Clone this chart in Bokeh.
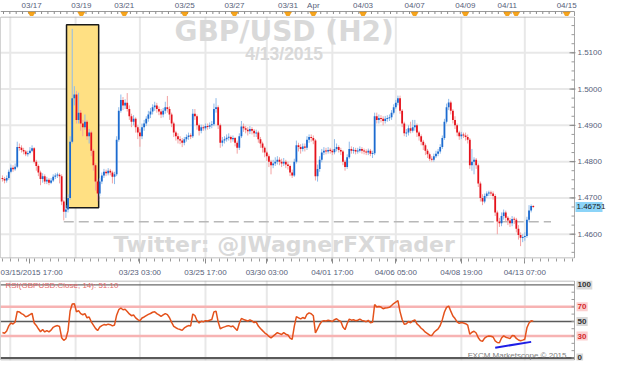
import numpy as np
from bokeh.plotting import figure
from bokeh.models import Range1d, FixedTicker
from bokeh.layouts import column
from bokeh.embed import file_html
from bokeh.resources import INLINE
from bokeh.core.properties import value

# ---------------- data (GBP/USD, 2-hour bars from 03/15 17:00) ----------------
first_open = 1.4755
close = [
1.4752,1.4748,1.4755,1.4772,1.4783,1.4779,1.4786,1.4840,1.4838,1.4832,
1.4828,1.4820,1.4824,1.4830,1.4837,1.4800,1.4788,1.4770,1.4752,1.4760,
1.4745,1.4750,1.4742,1.4748,1.4758,1.4762,1.4764,1.4760,1.4690,1.4662,
1.4668,1.4700,1.4855,1.4975,1.4985,1.4915,1.4935,1.4905,1.4895,1.4910,
1.4870,1.4880,1.4830,1.4790,1.4745,1.4712,1.4745,1.4762,1.4772,1.4768,
1.4775,1.4770,1.4758,1.4765,1.4860,1.4940,1.4970,1.4955,1.4962,1.4945,
1.4925,1.4910,1.4918,1.4895,1.4880,1.4870,1.4895,1.4905,1.4918,1.4930,
1.4938,1.4950,1.4955,1.4945,1.4938,1.4930,1.4940,1.4950,1.4945,1.4930,
1.4905,1.4880,1.4870,1.4862,1.4858,1.4852,1.4862,1.4868,1.4872,1.4870,
1.4932,1.4925,1.4900,1.4885,1.4895,1.4892,1.4898,1.4896,1.4900,1.4903,
1.4945,1.4950,1.4900,1.4852,1.4858,1.4862,1.4866,1.4868,1.4862,1.4865,
1.4852,1.4838,1.4870,1.4897,1.4892,1.4888,1.4884,1.4890,1.4885,1.4878,
1.4880,1.4862,1.4850,1.4838,1.4825,1.4815,1.4800,1.4790,1.4795,1.4800,
1.4805,1.4800,1.4795,1.4800,1.4792,1.4788,1.4770,1.4762,1.4800,1.4845,
1.4840,1.4835,1.4842,1.4838,1.4860,1.4868,1.4865,1.4858,1.4760,1.4780,
1.4805,1.4825,1.4830,1.4828,1.4832,1.4830,1.4826,1.4835,1.4840,1.4832,
1.4828,1.4800,1.4785,1.4812,1.4835,1.4830,1.4832,1.4828,1.4830,1.4835,
1.4830,1.4828,1.4825,1.4830,1.4822,1.4823,1.4925,1.4915,1.4920,1.4918,
1.4912,1.4918,1.4920,1.4922,1.4935,1.4950,1.4962,1.4975,1.4940,1.4905,
1.4878,1.4880,1.4892,1.4885,1.4895,1.4900,1.4880,1.4870,1.4855,1.4845,
1.4830,1.4820,1.4808,1.4805,1.4815,1.4822,1.4828,1.4840,1.4865,1.4910,
1.4950,1.4963,1.4940,1.4915,1.4900,1.4880,1.4870,1.4875,1.4872,1.4868,
1.4860,1.4790,1.4800,1.4805,1.4790,1.4740,1.4700,1.4690,1.4705,1.4712,
1.4715,1.4712,1.4705,1.4660,1.4635,1.4630,1.4650,1.4660,1.4645,1.4638,
1.4630,1.4642,1.4640,1.4615,1.4598,1.4590,1.4592,1.4595,1.4640,1.4665,
1.4678,1.46751]
high = [
1.4762,1.4758,1.4762,1.4778,1.4792,1.4790,1.4795,1.4855,1.4850,1.4845,
1.4838,1.4832,1.4830,1.4840,1.4845,1.4840,1.4805,1.4792,1.4775,1.4768,
1.4765,1.4758,1.4755,1.4755,1.4765,1.4768,1.4770,1.4768,1.4765,1.4695,
1.4680,1.4710,1.4870,1.5166,1.5008,1.4995,1.4990,1.4942,1.4915,1.4930,
1.4915,1.4890,1.4885,1.4835,1.4795,1.4752,1.4755,1.4770,1.4780,1.4778,
1.4782,1.4780,1.4775,1.4772,1.4870,1.4950,1.4985,1.4978,1.4972,1.4989,
1.4955,1.4932,1.4928,1.4922,1.4900,1.4890,1.4905,1.4915,1.4925,1.4940,
1.4948,1.4958,1.4965,1.4962,1.4952,1.4945,1.4948,1.4965,1.4981,1.4952,
1.4935,1.4910,1.4885,1.4878,1.4870,1.4865,1.4868,1.4875,1.4880,1.4878,
1.4945,1.4945,1.4930,1.4905,1.4902,1.4900,1.4905,1.4905,1.4908,1.4912,
1.4960,1.4975,1.4955,1.4905,1.4868,1.4870,1.4875,1.4878,1.4872,1.4872,
1.4868,1.4858,1.4878,1.4912,1.4905,1.4898,1.4895,1.4898,1.4895,1.4890,
1.4888,1.4885,1.4868,1.4855,1.4842,1.4830,1.4820,1.4805,1.4805,1.4812,
1.4815,1.4812,1.4808,1.4810,1.4805,1.4800,1.4792,1.4778,1.4808,1.4858,
1.4852,1.4848,1.4850,1.4850,1.4870,1.4875,1.4875,1.4872,1.4862,1.4792,
1.4815,1.4835,1.4840,1.4838,1.4840,1.4838,1.4835,1.4862,1.4850,1.4845,
1.4838,1.4832,1.4805,1.4820,1.4855,1.4842,1.4840,1.4838,1.4838,1.4842,
1.4840,1.4836,1.4834,1.4836,1.4835,1.4830,1.4935,1.4935,1.4930,1.4928,
1.4925,1.4926,1.4928,1.4930,1.4942,1.4958,1.4970,1.4982,1.4982,1.4945,
1.4910,1.4890,1.4900,1.4910,1.4915,1.4915,1.4905,1.4885,1.4875,1.4860,
1.4850,1.4835,1.4825,1.4815,1.4822,1.4830,1.4835,1.4848,1.4872,1.4918,
1.4960,1.4973,1.4968,1.4945,1.4925,1.4905,1.4885,1.4882,1.4880,1.4880,
1.4875,1.4865,1.4835,1.4812,1.4810,1.4795,1.4745,1.4710,1.4712,1.4718,
1.4720,1.4720,1.4718,1.4710,1.4665,1.4645,1.4660,1.4668,1.4665,1.4650,
1.4645,1.4650,1.4648,1.4645,1.4625,1.4605,1.4600,1.4605,1.4648,1.4680,
1.4682,1.4680]
low = [
1.4745,1.4740,1.4742,1.4750,1.4768,1.4772,1.4775,1.4782,1.4830,1.4825,
1.4820,1.4815,1.4814,1.4820,1.4826,1.4795,1.4775,1.4760,1.4735,1.4742,
1.4738,1.4738,1.4735,1.4738,1.4744,1.4752,1.4755,1.4740,1.4680,1.4638,
1.4645,1.4660,1.4695,1.4850,1.4955,1.4905,1.4905,1.4885,1.4870,1.4888,
1.4860,1.4850,1.4815,1.4775,1.4720,1.4691,1.4705,1.4738,1.4755,1.4760,
1.4762,1.4762,1.4740,1.4738,1.4760,1.4855,1.4935,1.4942,1.4945,1.4938,
1.4915,1.4895,1.4900,1.4880,1.4862,1.4841,1.4862,1.4885,1.4898,1.4910,
1.4920,1.4930,1.4940,1.4935,1.4928,1.4920,1.4922,1.4932,1.4935,1.4915,
1.4895,1.4868,1.4858,1.4850,1.4848,1.4840,1.4845,1.4855,1.4860,1.4862,
1.4865,1.4915,1.4888,1.4872,1.4878,1.4885,1.4886,1.4888,1.4890,1.4892,
1.4898,1.4935,1.4890,1.4838,1.4842,1.4850,1.4855,1.4858,1.4852,1.4855,
1.4842,1.4822,1.4832,1.4865,1.4882,1.4878,1.4872,1.4876,1.4875,1.4868,
1.4868,1.4852,1.4838,1.4825,1.4812,1.4802,1.4785,1.4765,1.4782,1.4788,
1.4792,1.4790,1.4785,1.4788,1.4782,1.4778,1.4760,1.4755,1.4758,1.4795,
1.4828,1.4822,1.4828,1.4828,1.4832,1.4852,1.4855,1.4848,1.4748,1.4745,
1.4772,1.4798,1.4818,1.4820,1.4822,1.4822,1.4818,1.4820,1.4828,1.4825,
1.4818,1.4790,1.4775,1.4780,1.4808,1.4822,1.4822,1.4820,1.4822,1.4825,
1.4822,1.4820,1.4818,1.4818,1.4815,1.4810,1.4818,1.4905,1.4905,1.4908,
1.4900,1.4905,1.4910,1.4912,1.4915,1.4930,1.4945,1.4955,1.4932,1.4895,
1.4870,1.4868,1.4872,1.4878,1.4880,1.4885,1.4868,1.4858,1.4845,1.4832,
1.4818,1.4810,1.4802,1.4800,1.4800,1.4810,1.4815,1.4822,1.4835,1.4860,
1.4905,1.4942,1.4930,1.4905,1.4890,1.4870,1.4860,1.4862,1.4865,1.4858,
1.4850,1.4780,1.4775,1.4765,1.4780,1.4730,1.4690,1.4680,1.4685,1.4700,
1.4705,1.4705,1.4695,1.4650,1.4600,1.4620,1.4622,1.4640,1.4635,1.4625,
1.4620,1.4622,1.4628,1.4605,1.4585,1.4567,1.4578,1.4582,1.4590,1.4635,
1.4660,1.4672]

top_date_labels = ["03/17", "03/19", "03/21", "03/25", "03/27", "03/31", "Apr",
                   "04/03", "04/07", "04/09", "04/11", "04/15"]
top_date_pos = [13.8, 37.3, 57.6, 86.2, 109.7, 135.0, 147.0, 170.5, 194.9, 218.9, 238.7, 266.8]
event_pos = [13.8, 37.3, 57.6, 86.2, 109.7, 135.0, 147.0, 170.5, 194.9, 218.9, 238.7, 242.9, 266.8]

bottom_tick_pos = [13, 65, 96, 125, 156, 186, 217, 247]
bottom_tick_labels = ["03/15/2015 17:00", "03/23 03:00", "03/25 17:00", "03/30 03:00",
                      "04/01 17:00", "04/06 05:00", "04/08 19:00", "04/13 07:00"]
grid_pos = [3.7, 34.6, 65, 96, 125, 156, 186, 217, 247]

price_ticks = [1.46, 1.47, 1.48, 1.49, 1.50, 1.51]
price_tick_labels = ["1.4600", "1.4700", "1.4800", "1.4900", "1.5000", "1.5100"]
last_price = 1.46751
support_level = 1.4634
support_from, support_to = 29, 259.4
box_left, box_right, box_bottom, box_top = 30.3, 45.5, 1.4673, 1.5177

rsi_period = 14
rsi_seed_gain, rsi_seed_loss = 0.0004, 0.00075
rsi_levels = [0, 30, 50, 70, 100]
rsi_trend_x = [233, 250]
rsi_trend_y = [14, 22]
rsi_title = "RSI(GBPUSD.Close, 14): 51.10"

# ---------------- derived ----------------
n = len(close)
idx = np.arange(n)
c = np.array(close)
o = np.concatenate([[first_open], c[:-1]])
h = np.maximum(np.array(high), np.maximum(o, c))
l = np.minimum(np.array(low), np.minimum(o, c))
up = c >= o
btop = np.maximum(o, c)
bbot = np.minimum(o, c)
mid = (btop + bbot) / 2
thin = (btop - bbot) < 0.00028
btop = np.where(thin, mid + 0.00014, btop)
bbot = np.where(thin, mid - 0.00014, bbot)

ag, al = rsi_seed_gain, rsi_seed_loss
rsi = [100 - 100 / (1 + ag / al)]
for d in np.diff(c):
    ag = (ag * (rsi_period - 1) + max(d, 0)) / rsi_period
    al = (al * (rsi_period - 1) + max(-d, 0)) / rsi_period
    rsi.append(100 - 100 / (1 + ag / al))

# ---------------- layout constants ----------------
W = 607
FRAME_W = 574
X0, X1 = -0.92, 270.5
BAR_PX = FRAME_W / (X1 - X0)
XE = X0 + W / BAR_PX
PY0, PY1 = 1.4533, 1.5200
MAIN_FH = 242
RY0, RY1 = -3.5, 106
RSI_FH = 80
FONT = "Liberation Sans"
AXC = "#56607a"
BLUE, RED = "#1c6bd0", "#e5121b"
LBLUE, PINK = "#8fbbea", "#f3a3a3"
FRAME_C = "#a8a8a8"
GRID_C = "#e8e8e8"

def dx(px):
    return px / BAR_PX

def dyp(px):
    return px * (PY1 - PY0) / MAIN_FH

def dyr(px):
    return px * (RY1 - RY0) / RSI_FH

xr = Range1d(X0, XE)

def base_fig(height, yr, bottom, x_axis=None):
    f = figure(width=W, height=height, x_range=xr, y_range=yr,
               min_border_left=0, min_border_right=0, min_border_top=0, min_border_bottom=bottom,
               toolbar_location=None, output_backend="svg",
               x_axis_location=x_axis, y_axis_location=None)
    f.grid.visible = False
    f.outline_line_color = None
    return f

# ---- top date strip ----
strip = base_fig(16, Range1d(0, 16), 0)
strip.text(x=top_date_pos, y=[11.3] * len(top_date_pos), text=top_date_labels,
           text_align="center", text_baseline="middle", text_font=value(FONT),
           text_font_size=value("8px"), text_color=AXC)
strip.segment(x0=[X0], y0=[5], x1=[X1], y1=[5], line_color="#9a9a9a", line_width=1)
mt = np.arange(0.5, X1, 3.0)
strip.segment(x0=mt, y0=[5] * len(mt), x1=mt, y1=[2.5] * len(mt), line_color="#8a8a8a", line_width=1)
strip.segment(x0=[X1], y0=[0], x1=[X1], y1=[5], line_color="#9a9a9a", line_width=1)
strip.scatter(x=event_pos, y=[2.4] * len(event_pos), marker="inverted_triangle", size=7,
              fill_color="#f7a51c", line_color="#e08a00", line_width=0.5)

# ---- main price panel ----
p = base_fig(MAIN_FH + 22, Range1d(PY0, PY1), 22, x_axis="below")
# grid
p.segment(x0=grid_pos, y0=[PY0] * len(grid_pos), x1=grid_pos, y1=[PY1] * len(grid_pos),
          line_color=GRID_C, line_width=2)
p.segment(x0=[X0] * len(price_ticks), y0=price_ticks, x1=[X1] * len(price_ticks), y1=price_ticks,
          line_color=GRID_C, line_width=2)
# bottom axis
p.xaxis.ticker = FixedTicker(ticks=bottom_tick_pos, minor_ticks=list(np.arange(-0.1, X1, 3.8)))
p.xaxis.major_label_overrides = {k: v for k, v in zip(bottom_tick_pos, bottom_tick_labels)}
p.xaxis.axis_line_color = None
p.xaxis.major_tick_line_color = "#8a8a8a"
p.xaxis.minor_tick_line_color = "#9a9a9a"
p.xaxis.major_label_text_font = FONT
p.xaxis.major_label_text_font_size = "8px"
p.xaxis.major_label_text_color = AXC
p.xaxis.major_tick_in = 0
p.xaxis.major_tick_out = 5
p.xaxis.minor_tick_in = 0
p.xaxis.minor_tick_out = 3
p.xaxis.major_label_standoff = 4

# watermarks
p.text(x=[133.2], y=[1.51594], text=["GBP/USD (H2)"], text_align="center", text_baseline="middle",
       text_font=value("DejaVu Sans"), text_font_style="bold", text_font_size=value("28px"),
       text_color="#d9d9d9")
p.text(x=[133.2], y=[1.50960], text=["4/13/2015"], text_align="center", text_baseline="middle",
       text_font=value(FONT), text_font_style="bold", text_font_size=value("17.5px"),
       text_color="#d9d9d9")
p.text(x=[133.2], y=[1.45723], text=["Twitter: @JWagnerFXTrader"], text_align="center",
       text_baseline="middle", text_font=value("DejaVu Sans"), text_font_style="bold",
       text_font_size=value("22px"), text_color="#d9d9d9")

# highlight box
p.quad(left=[box_left], right=[box_right], bottom=[box_bottom], top=[box_top],
       fill_color="#FFE083", line_color="#1a1a1a", line_width=1.5)

# support line
p.segment(x0=[support_from], y0=[support_level], x1=[support_to], y1=[support_level],
          line_color="#b8b8b8", line_width=1.5, line_dash="10 5")

# candles
wick_col = [LBLUE if u else PINK for u in up]
body_col = [BLUE if u else RED for u in up]
p.segment(x0=idx, y0=l, x1=idx, y1=h, line_color=wick_col, line_width=1)
p.vbar(x=idx, width=0.85, top=btop, bottom=bbot, fill_color=body_col, line_color=None)

# frame
p.quad(left=[X0], right=[X1], bottom=[PY0 + dyp(0.5)], top=[PY1 - dyp(0.5)],
       fill_color=None, line_color=FRAME_C, line_width=1)
# right price axis
minor_p = np.arange(1.455, 1.52, 0.0025)
p.segment(x0=[X1 - dx(3)] * len(minor_p), y0=minor_p, x1=[X1] * len(minor_p), y1=minor_p,
          line_color="#9a9a9a", line_width=1)
p.segment(x0=[X1 - dx(5)] * len(price_ticks), y0=price_ticks, x1=[X1 + dx(1)] * len(price_ticks),
          y1=price_ticks, line_color="#8a8a8a", line_width=1)
p.text(x=[X1 + dx(3)] * len(price_ticks), y=price_ticks, text=price_tick_labels,
       text_align="left", text_baseline="middle", text_font=value(FONT),
       text_font_size=value("8px"), text_color=AXC)
# current price tag
p.quad(left=[X1 + dx(1)], right=[X1 + dx(28)], bottom=[last_price - dyp(5)], top=[last_price + dyp(5)],
       fill_color="#8cd4f8", line_color=None)
p.text(x=[X1 + dx(2)], y=[last_price], text=[f"{last_price:.5f}"], text_align="left",
       text_baseline="middle", text_font=value(FONT), text_font_size=value("8px"), text_color="#1a1a1a")

# ---- RSI panel ----
r = base_fig(RSI_FH + 2, Range1d(RY0, RY1), 2)
r.segment(x0=grid_pos, y0=[RY0] * len(grid_pos), x1=grid_pos, y1=[RY1] * len(grid_pos),
          line_color=GRID_C, line_width=2)
level_style = {0: ("#5a5a5a", 2), 30: ("#f7b3b3", 2.5), 50: ("#5a5a5a", 1.5),
               70: ("#f7b3b3", 2.5), 100: ("#6a6a6a", 1.2)}
for lv in rsi_levels:
    col, lw = level_style[lv]
    r.segment(x0=[X0], y0=[lv], x1=[X1], y1=[lv], line_color=col, line_width=lw)

r.line(x=idx, y=rsi, line_color="#e4521c", line_width=1.5)
r.line(x=rsi_trend_x, y=rsi_trend_y, line_color="#1e1ee6", line_width=2)

r.quad(left=[X0], right=[X1], bottom=[RY0 + dyr(0.5)], top=[RY1 - dyr(0.5)],
       fill_color=None, line_color=FRAME_C, line_width=1)
minor_r = np.arange(0, 101, 10)
r.segment(x0=[X1 - dx(3)] * len(minor_r), y0=minor_r, x1=[X1] * len(minor_r), y1=minor_r,
          line_color="#9a9a9a", line_width=1)

lab_style = {100: ("#333333", "#d8d8d8"), 70: ("#d42a2a", "#fbd0d0"), 50: ("#333333", "#d8d8d8"),
             30: ("#d42a2a", "#fbd0d0"), 0: ("#333333", "#d8d8d8")}
for lv in rsi_levels:
    tc, bg = lab_style[lv]
    txt = str(lv)
    wpx = 4.6 * len(txt) + 2
    r.quad(left=[X1 + dx(2)], right=[X1 + dx(2 + wpx)], bottom=[lv - dyr(4.5)], top=[lv + dyr(4.5)],
           fill_color=bg, line_color=None)
    r.text(x=[X1 + dx(3)], y=[lv], text=[txt], text_align="left", text_baseline="middle",
           text_font=value(FONT), text_font_size=value("8px"), text_font_style="bold", text_color=tc)

r.text(x=[X0 + dx(5)], y=[RY1 - dyr(5)], text=[rsi_title], text_align="left", text_baseline="middle",
       text_font=value(FONT), text_font_size=value("8px"), text_color="#e36a6a")
r.text(x=[X1 - dx(8)], y=[RY0 + dyr(1)], text=["FXCM Marketscope \u00a9 2015"], text_align="right",
       text_baseline="bottom", text_font=value(FONT), text_font_size=value("8px"), text_color="#808080")

layout = column(strip, p, r, spacing=0)
open("out.html", "w").write(file_html(layout, INLINE))
